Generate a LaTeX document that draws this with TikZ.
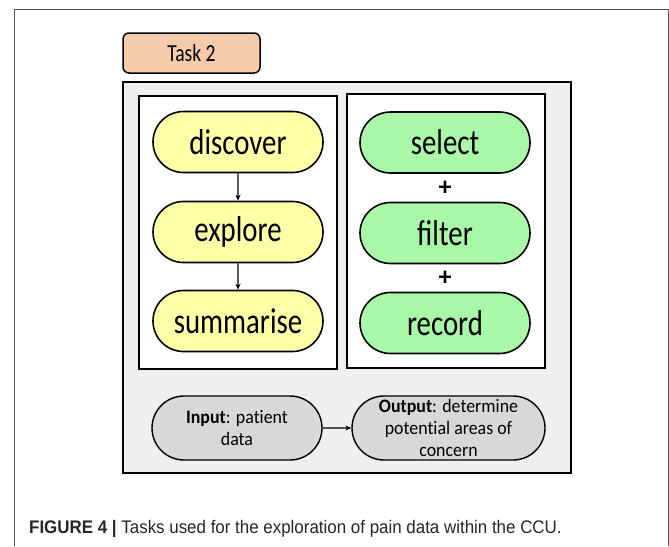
\documentclass[tikz,border=0pt]{standalone}
\usepackage{fontspec}
\setmainfont{Carlito}
\newfontfamily\narrowfont[FakeStretch=0.8]{Carlito}
\newfontfamily\iofont[FakeStretch=0.94,Ligatures=NoCommon]{Carlito}
\newfontfamily\capfont[FakeStretch=0.93]{Liberation Sans}
\usetikzlibrary{shapes.misc,arrows.meta}
\definecolor{peach}{HTML}{F6CBAA}
\definecolor{panelgray}{HTML}{EFEFEF}
\definecolor{yel}{HTML}{FFFFA8}
\definecolor{grn}{HTML}{A8F8A8}
\definecolor{iogray}{HTML}{D8D8D8}
\definecolor{framegray}{HTML}{555555}
\tikzset{
  pill/.style={rounded rectangle, draw=black, line width=1.6pt, minimum width=170pt, minimum height=61pt, inner sep=0pt, font=\narrowfont\fontsize{36}{40}\selectfont},
  yelpill/.style={pill, fill=yel},
  grnpill/.style={pill, fill=grn},
  iopill/.style={rounded rectangle, draw=black, line width=1.4pt, fill=iogray, minimum height=64pt, inner sep=0pt, align=center, font=\iofont\fontsize{19}{21.7}\selectfont},
  whitebox/.style={draw=black, line width=2pt, fill=white},
  conn/.style={-{Stealth[length=6pt,width=5pt]}, line width=1.3pt},
  plus/.style={font=\fontsize{26}{28}\selectfont\bfseries, inner sep=0pt}
}
\begin{document}
\begin{tikzpicture}[x=1pt,y=-1pt]
\useasboundingbox (0,0) rectangle (669,546);
\fill[white] (0,0) rectangle (669,546);
% outer frame
\draw[framegray, line width=1pt] (14.5,546) -- (14.5,9.5) -- (668,9.5) -- (668,546);
% task label
\node[draw=black, line width=1.5pt, fill=peach, rounded corners=6pt, minimum width=137pt, minimum height=40pt, font=\narrowfont\fontsize{24.5}{28}\selectfont] (task) at (191.5,53) {Task 2};
% gray panel
\node[draw=black, line width=2pt, fill=panelgray, minimum width=448pt, minimum height=391pt, inner sep=0pt] (panel) at (347,277.5) {};
% white boxes
\node[whitebox, minimum width=198pt, minimum height=273pt, inner sep=0pt] (lbox) at (238,232.5) {};
\node[whitebox, minimum width=198pt, minimum height=274pt, inner sep=0pt] (rbox) at (446,231) {};
% yellow
\node[yelpill] (discover) at (238,142) {discover};
\node[yelpill] (explore) at (238,232) {explore};
\node[yelpill] (summarise) at (238,321) {summarise};
\draw[conn] (discover) -- (explore);
\draw[conn] (explore) -- (summarise);
% green
\node[grnpill] (select) at (445,142.5) {select};
\node[grnpill] (filter) at (445,233) {filter};
\node[grnpill] (record) at (445,323) {record};
\node[plus] (p1) at (445,188) {+};
\node[plus] (p2) at (445,278.5) {+};
% io
\node[iopill, minimum width=170pt] (input) at (237,428) {\textbf{Input}: patient\\data};
\node[iopill, minimum width=193pt] (output) at (448.5,428) {\textbf{Output}: determine\\potential areas of\\concern};
\draw[conn] (input) -- (output);
% caption
\node[anchor=base west, inner sep=0pt, font=\capfont\fontsize{18.2}{21}\selectfont, text=black!85] (cap) at (29,533) {\textbf{FIGURE 4 |} Tasks used for the exploration of pain data within the CCU.};
\end{tikzpicture}
\end{document}
